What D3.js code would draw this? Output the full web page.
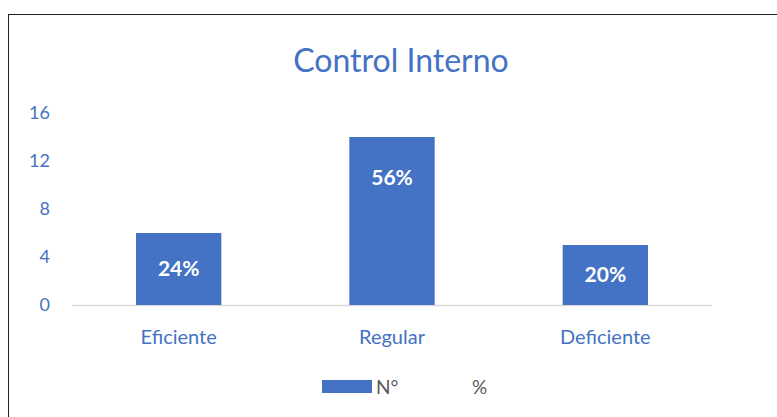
<!DOCTYPE html>
<html>
<head>
<meta charset="utf-8">
<script src="https://cdn.jsdelivr.net/npm/d3@7"></script>
<style>
  body { margin: 0; background: #fff; }
  svg { display: block; font-family: Lato, "Open Sans", sans-serif; }
</style>
</head>
<body>
<div id="chart"></div>
<script>
var categories = ["Eficiente", "Regular", "Deficiente"];
var counts = [6, 14, 5];
var percents = ["24%", "56%", "20%"];
var yTicks = [0, 4, 8, 12, 16];
var legendLabels = ["N°", "%"];

function init() {
  var width = 777, height = 417;
  var blue = "#4472C4";

  var svg = d3.select("#chart").append("svg")
    .attr("width", width)
    .attr("height", height);

  // outer frame (cut off at right and bottom like the screenshot)
  svg.append("rect")
    .attr("x", 8.5).attr("y", 14.5)
    .attr("width", 820).attr("height", 500)
    .attr("fill", "#fff")
    .attr("stroke", "#222").attr("stroke-width", 1);

  var x = d3.scaleBand()
    .domain(categories)
    .range([72, 712])
    .paddingInner(0.6)
    .paddingOuter(0.3);

  var y = d3.scaleLinear()
    .domain([0, 16])
    .range([305, 113]);

  svg.append("text")
    .attr("x", 401).attr("y", 72)
    .attr("text-anchor", "middle")
    .attr("fill", blue)
    .style("font-size", "32px")
    .text("Control Interno");

  // y axis labels
  var yAxis = d3.axisLeft(y).tickValues(yTicks).tickSize(0).tickPadding(0);
  var gy = svg.append("g").attr("transform", "translate(50,0)").call(yAxis);
  gy.select(".domain").remove();
  gy.selectAll("text").attr("fill", blue).style("font-size", "18px").style("font-family", "Lato, sans-serif");

  // baseline
  svg.append("line")
    .attr("x1", 72).attr("x2", 712)
    .attr("y1", y(0) + 0.5).attr("y2", y(0) + 0.5)
    .attr("stroke", "#d9d9d9").attr("stroke-width", 1.5);

  var xAxis = d3.axisBottom(x).tickSize(0).tickPadding(0);
  var gx = svg.append("g").attr("transform", "translate(0," + (y(0) + 39) + ")").call(xAxis);
  gx.select(".domain").remove();
  gx.selectAll("text").attr("fill", blue).attr("dy", 0).style("font-size", "20px").style("font-family", "Lato, sans-serif");

  svg.selectAll("rect.bar")
    .data(counts)
    .enter().append("rect")
    .attr("class", "bar")
    .attr("x", function(d, i) { return x(categories[i]); })
    .attr("y", function(d) { return y(d); })
    .attr("width", x.bandwidth())
    .attr("height", function(d) { return y(0) - y(d); })
    .attr("fill", blue);

  svg.selectAll("text.lbl")
    .data(counts)
    .enter().append("text")
    .attr("class", "lbl")
    .attr("x", function(d, i) { return x(categories[i]) + x.bandwidth() / 2; })
    .attr("y", function(d) { return Math.min((y(d) + y(0)) / 2, y(d) + 41); })
    .attr("dy", "0.35em")
    .attr("text-anchor", "middle")
    .attr("fill", "#fff")
    .style("font-size", "21px")
    .style("font-weight", "bold")
    .text(function(d, i) { return percents[i]; });

  // legend
  var lg = svg.append("g");
  lg.append("rect")
    .attr("x", 322).attr("y", 380)
    .attr("width", 50).attr("height", 13)
    .attr("fill", blue);
  lg.append("text")
    .attr("x", 376).attr("y", 394)
    .attr("fill", "#595959").style("font-size", "19px")
    .text(legendLabels[0]);
  lg.append("text")
    .attr("x", 472).attr("y", 394)
    .attr("fill", "#595959").style("font-size", "19px")
    .text(legendLabels[1]);
}

window.onload = init;
</script>
</body>
</html>
